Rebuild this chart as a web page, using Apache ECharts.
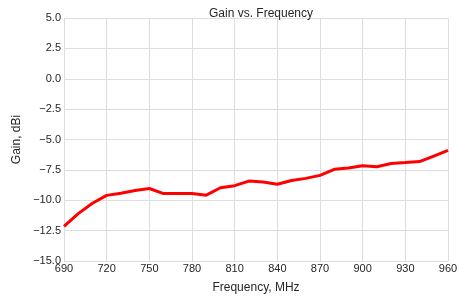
<!DOCTYPE html>
<html>
<head>
<meta charset="utf-8">
<script src="https://cdn.jsdelivr.net/npm/echarts@6/dist/echarts.min.js"></script>
<style>
html,body{margin:0;padding:0;background:#fff;}
#container1{width:474px;height:299px;}
</style>
</head>
<body>
<div id="container1"></div>
<script>
var freq = [690, 700, 710, 720, 730, 740, 750, 760, 770, 780, 790, 800, 810, 820,
            830, 840, 850, 860, 870, 880, 890, 900, 910, 920, 930, 940, 950, 960];
var gain = [-12.15, -11.1, -10.25, -9.6, -9.43, -9.2, -9.03, -9.45, -9.45, -9.45, -9.58, -8.97, -8.8, -8.42,
            -8.5, -8.68, -8.38, -8.2, -7.95, -7.45, -7.35, -7.16, -7.24, -6.97, -6.9, -6.82, -6.36, -5.9];

var myChart = echarts.init(document.getElementById('container1'));
var fontFam = '"Liberation Sans", Arial, sans-serif';

function fmtY(v){
    var s = v.toFixed(1);
    return s.replace('-', '\u2212');
}

var data = [];
for (var i = 0; i < freq.length; i++) {
    data.push([freq[i], gain[i]]);
}

var option = {
    animation: false,
    title: {
        text: 'Gain vs. Frequency',
        left: 256,
        textAlign: 'center',
        top: 3,
        textStyle: {fontFamily: fontFam, fontSize: 12, fontWeight: 'normal', color: '#262626'}
    },
    grid: {left: 64, right: 26, top: 18, bottom: 31, containLabel: false},
    xAxis: {
        type: 'value',
        min: 690,
        max: 960,
        interval: 30,
        name: 'Frequency, MHz',
        nameLocation: 'middle',
        nameGap: 21,
        nameTextStyle: {fontFamily: fontFam, fontSize: 12, color: '#262626'},
        axisLine: {show: false},
        axisTick: {show: false},
        axisLabel: {fontFamily: fontFam, fontSize: 11, color: '#262626', margin: 2},
        splitLine: {show: true, lineStyle: {color: '#dedede', width: 1}}
    },
    yAxis: {
        type: 'value',
        min: -15,
        max: 5,
        interval: 2.5,
        name: 'Gain, dBi',
        nameLocation: 'middle',
        nameGap: 38,
        nameTextStyle: {fontFamily: fontFam, fontSize: 12, color: '#262626'},
        axisLine: {show: false},
        axisTick: {show: false},
        axisLabel: {fontFamily: fontFam, fontSize: 11, color: '#262626', margin: 3, formatter: fmtY},
        splitLine: {show: true, lineStyle: {color: '#dedede', width: 1}}
    },
    series: [{
        type: 'line',
        data: data,
        showSymbol: false,
        lineStyle: {color: '#ff0000', width: 3},
        itemStyle: {color: '#ff0000'}
    }]
};
myChart.setOption(option);
</script>
</body>
</html>
